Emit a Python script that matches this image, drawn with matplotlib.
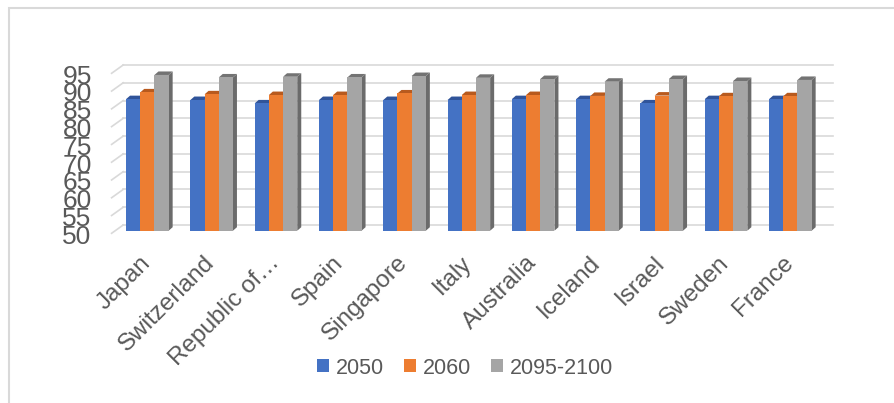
import matplotlib.pyplot as plt
from matplotlib.patches import Polygon, Rectangle, Patch

countries = ['Japan', 'Switzerland', 'Republic of…', 'Spain', 'Singapore', 'Italy',
             'Australia', 'Iceland', 'Israel', 'Sweden', 'France']
series = ['2050', '2060', '2095-2100']
v2050 = [87.0, 86.75, 85.8, 86.75, 86.75, 86.75, 87.0, 87.0, 85.8, 87.0, 87.0]
v2060 = [88.9, 88.35, 88.15, 88.15, 88.6, 88.15, 88.15, 87.9, 88.0, 87.8, 87.8]
v2100 = [93.8, 93.1, 93.3, 93.1, 93.5, 93.0, 92.65, 91.9, 92.65, 92.1, 92.4]
yticks = [50, 55, 60, 65, 70, 75, 80, 85, 90, 95]

front_cols = ['#4472C4', '#ED7D31', '#A5A5A5']
top_cols = ['#30549A', '#B85A1E', '#737373']
side_cols = ['#2B4C8C', '#AE5520', '#6B6B6B']
text_col = '#595959'

fig = plt.figure(figsize=(8.95, 4.03), dpi=100)
# frame around the chart (right and bottom edges fall outside the picture)
fig.patches.append(Rectangle((9 / 895, -0.05), 2, 1.05 - 8 / 403, fill=False,
                             edgecolor='#D9D9D9', lw=1.5, transform=fig.transFigure))

ax = fig.add_axes([115.2 / 895, (403 - 230.7) / 403, 707.3 / 895, 160 / 403])
ax.set_xlim(-0.5, 10.5)
ax.set_ylim(50, 95)
ax.axis('off')

# pixel -> data unit factors
px_x = 11 / 707.3
px_y = 45 / 160.0

# back wall gridlines + left side wall
for v in yticks:
    ax.plot([-0.5 + 8 * px_x, 10.54 + 8 * px_x], [v + 5.7 * px_y] * 2,
            color='#D9D9D9', lw=1.2, zorder=1, clip_on=False)
    ax.plot([-0.5 - 3.6 * px_x, -0.5 + 8 * px_x], [v - 2.6 * px_y, v + 5.7 * px_y],
            color='#D9D9D9', lw=1.2, zorder=1, clip_on=False)
    ax.text(-0.5 - 23.5 * px_x, v - 6 * px_y, str(v), ha='right', va='center',
            fontsize=19, color=text_col, family='Liberation Sans', clip_on=False)

w = 14.2 * px_x
ddx = 4 * px_x
ddy = 3.5 * px_y
data = [v2050, v2060, v2100]
z = 2
for i in range(len(countries)):
    for j in range(3):
        v = data[j][i]
        x0 = i - 1.5 * w + j * w
        x1 = x0 + w
        ax.add_patch(Polygon([(x1, 50), (x1, v), (x1 + ddx, v + ddy), (x1 + ddx, 50 + ddy)],
                             closed=True, facecolor=side_cols[j], edgecolor='none',
                             zorder=z, clip_on=False))
        ax.add_patch(Polygon([(x0, v), (x1, v), (x1 + ddx, v + ddy), (x0 + ddx, v + ddy)],
                             closed=True, facecolor=top_cols[j], edgecolor='none',
                             zorder=z, clip_on=False))
        ax.bar(x0, v - 50, bottom=50, width=w, align='edge', color=front_cols[j],
               zorder=z + 0.5, clip_on=False)
        z += 1

for i, c in enumerate(countries):
    ax.text(i - 8 * px_x, 50 - 21 * px_y, c, rotation=45, rotation_mode='anchor',
            ha='right', va='top', fontsize=17.5, color=text_col, family='Liberation Sans',
            clip_on=False)

handles = [Patch(facecolor=front_cols[j]) for j in range(3)]
leg = fig.legend(handles, series, loc='center', bbox_to_anchor=(465 / 895, 1 - 368 / 403),
                 ncol=3, frameon=False, handlelength=0.55, handleheight=0.55,
                 handletextpad=0.3, columnspacing=0.95,
                 prop={'family': 'Liberation Sans', 'size': 15.5})
for t in leg.get_texts():
    t.set_color(text_col)

fig.savefig('out.png', dpi=100)
